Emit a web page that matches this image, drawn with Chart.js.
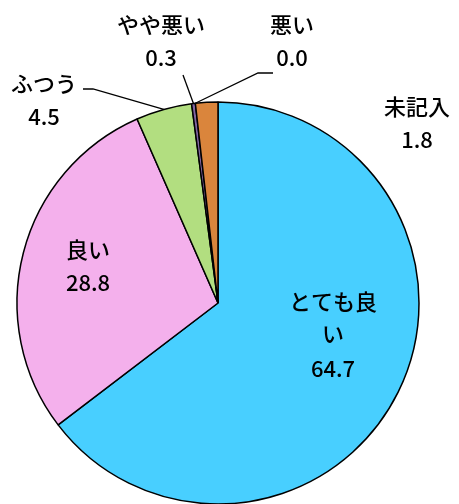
<!DOCTYPE html>
<html>
<head>
<meta charset="utf-8">
<script src="https://cdn.jsdelivr.net/npm/chart.js@4"></script>
<style>
  html, body { margin: 0; padding: 0; background: #fff; }
  #wrap { width: 459px; height: 504px; }
</style>
</head>
<body>
<div id="wrap"><canvas id="pie_chart" width="459" height="504"></canvas></div>
<script>
const categories = ['とても良い', '良い', 'ふつう', 'やや悪い', '悪い', '未記入'];
const values = [64.7, 28.8, 4.5, 0.3, 0.0, 1.8];
const sliceColors = ['#48CFFF', '#F4B0EC', '#B2DE80', '#8064A2', '#C0504D', '#DA853C'];

// where each label is written (text lines, centre x, middle of first line)
const labelLines = [['とても良', 'い'], ['良い'], ['ふつう'], ['やや悪い'], ['悪い'], ['未記入']];
const labelPos = [
    { x: 333, y: 302 },
    { x: 88, y: 250 },
    { x: 44, y: 84 },
    { x: 161, y: 25 },
    { x: 292, y: 25 },
    { x: 417, y: 107 }
];
// leader lines: [label end point, elbow point] or null
const leaders = [null, null, [[83, 89], [93, 89]], [[183, 75], [183, 75]], [[273, 73], [258, 73]], null];

const FONT = '"Noto Sans CJK JP", "Noto Sans", sans-serif';

const labelPlugin = {
    id: 'pieLabels',
    afterDraw(chart) {
        const ctx = chart.ctx;
        const arcs = chart.getDatasetMeta(0).data;
        ctx.save();
        ctx.fillStyle = '#000';
        ctx.textAlign = 'center';
        ctx.textBaseline = 'middle';
        ctx.font = '500 22px ' + FONT;
        // leader lines to slice edge
        ctx.strokeStyle = '#000';
        ctx.lineWidth = 1.3;
        arcs.forEach(function (arc, i) {
            if (!leaders[i]) return;
            const p = arc.getProps(['x', 'y', 'startAngle', 'endAngle', 'outerRadius']);
            const mid = (p.startAngle + p.endAngle) / 2;
            const ex = p.x + Math.cos(mid) * p.outerRadius;
            const ey = p.y + Math.sin(mid) * p.outerRadius;
            ctx.beginPath();
            ctx.moveTo(leaders[i][0][0], leaders[i][0][1]);
            ctx.lineTo(leaders[i][1][0], leaders[i][1][1]);
            ctx.lineTo(ex, ey);
            ctx.stroke();
        });
        labelLines.forEach(function (lines, i) {
            const pos = labelPos[i];
            let y = pos.y;
            lines.forEach(function (t) {
                ctx.fillText(t, pos.x, y);
                y += 32;
            });
            ctx.fillText(values[i].toFixed(1), pos.x, y + (lines.length > 1 ? 3 : 1));
        });
        ctx.restore();
    }
};

new Chart(document.getElementById('pie_chart'), {
    type: 'pie',
    data: {
        labels: categories,
        datasets: [{
            data: values,
            backgroundColor: sliceColors,
            borderColor: '#000',
            borderWidth: 1.5,
            radius: 201
        }]
    },
    options: {
        responsive: false,
        animation: false,
        layout: { padding: { left: 0, right: 23, top: 102, bottom: 0 } },
        plugins: {
            legend: { display: false },
            tooltip: { enabled: false }
        }
    },
    plugins: [labelPlugin]
});
</script>
</body>
</html>
